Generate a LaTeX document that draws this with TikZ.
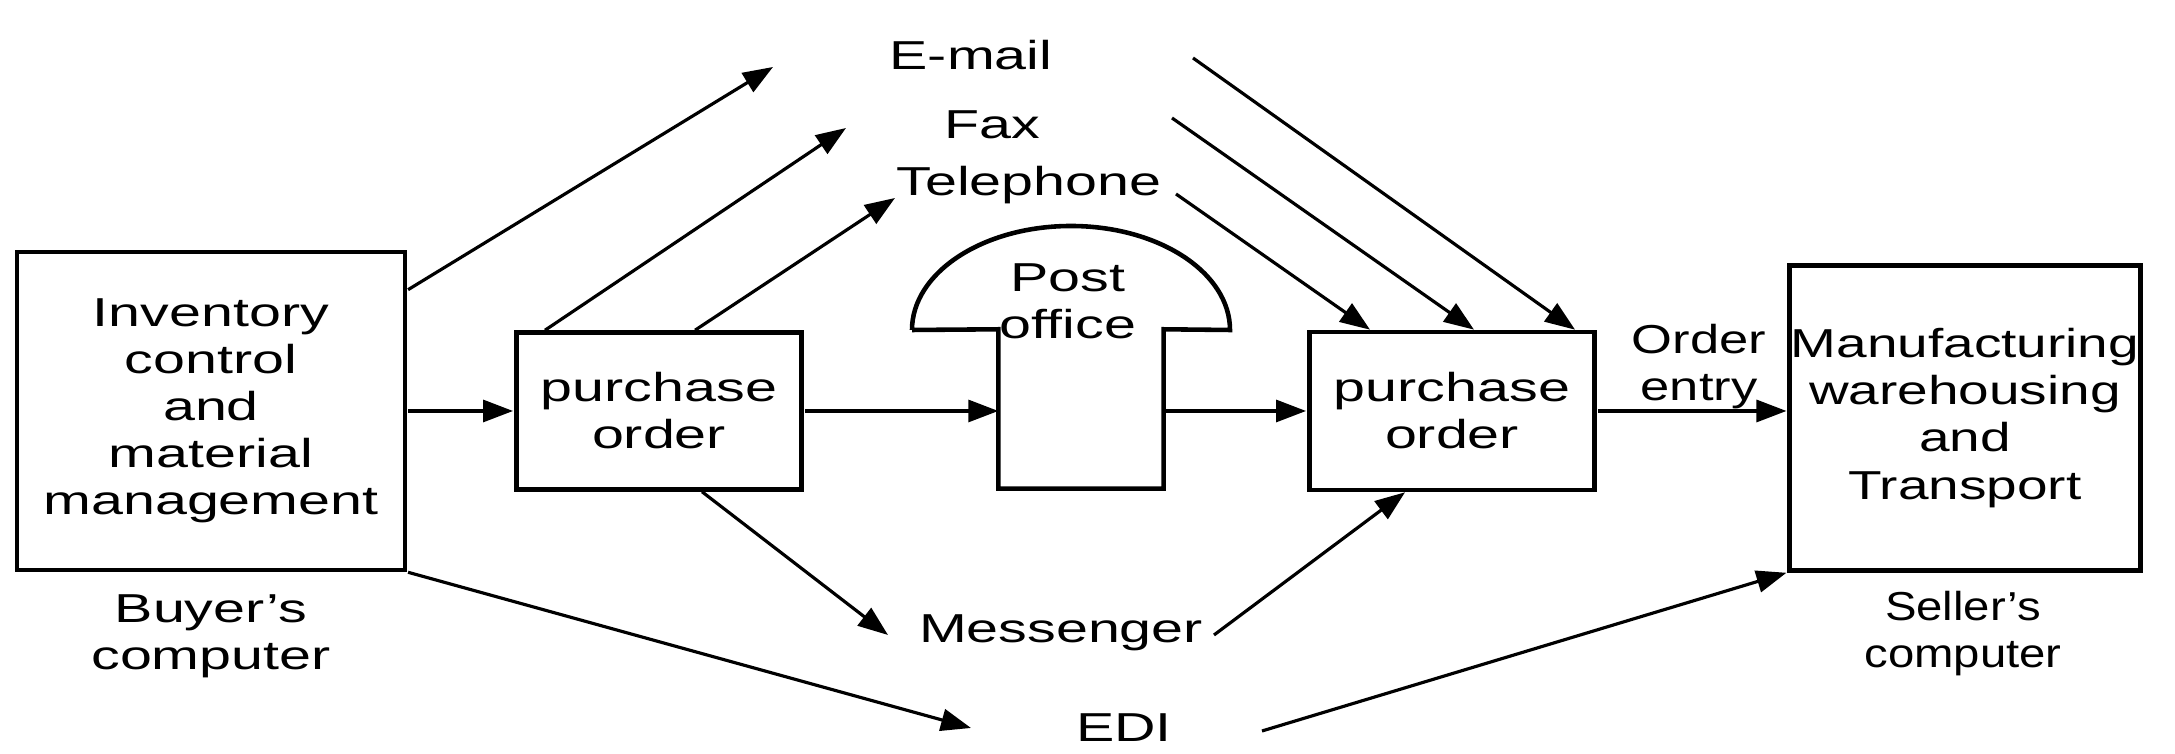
\documentclass[tikz,border=0pt]{standalone}
\usepackage{fontspec}
\setmainfont{Liberation Sans}
\usepackage{tikz}
\usetikzlibrary{arrows.meta}

\begin{document}
\begin{tikzpicture}[
    txt/.style={font=\fontsize{11.5}{13.4}\selectfont, align=center, inner sep=0pt, xscale=1.42},
    box/.style={txt, draw, line width=1.3pt, minimum height=#1},
    flow/.style={-{Triangle[length=3mm, width=2.2mm]}, line width=0.9pt}
  ]
    \useasboundingbox (0,0) rectangle (21.75,7.54);

    %% buyer's side
    \node[box=3.18cm, minimum width=2.73cm] (inv) at (2.11,3.43)
      {Inventory\\control\\and\\material\\management};
    \node[txt] (buyer) at (2.11,1.18) {Buyer's\\computer};
    \node[box=1.57cm, minimum width=2.01cm] (po1) at (6.59,3.43) {purchase\\order};

    %% post office (dome on a stem)
    \node[minimum width=1.64cm, minimum height=1.58cm, inner sep=0pt] (stem) at (10.81,3.45) {};
    \draw[line width=1.3pt] (9.12,4.24) -- (stem.north west) -- (stem.south west)
      -- (stem.south east) -- (stem.north east) -- (12.30,4.24)
      arc[start angle=0, end angle=180, x radius=1.59cm, y radius=1.04cm];
    \node[txt] (postlbl) at (10.68,4.53) {Post\\office};

    %% seller's side
    \node[box=1.58cm, minimum width=2.01cm] (po2) at (14.52,3.43) {purchase\\order};
    \node[box=3.05cm, xscale=1.36/1.42, minimum width=2.58cm] (mfg) at (19.65,3.36)
      {Manufacturing\\warehousing\\and\\Transport};
    \node[txt, xscale=1.17/1.42] (seller) at (19.63,1.2) {Seller's\\computer};
    \node[txt, xscale=1.3/1.42] (entry) at (16.99,3.87) {Order\\entry};

    %% channels
    \node[txt] (mail) at (9.71,6.99) {E-mail};
    \node[txt] (fax) at (9.92,6.29) {Fax};
    \node[txt] (tel) at (10.29,5.69) {Telephone};
    \node[txt] (msg) at (10.61,1.21) {Messenger};
    \node[txt] (edi) at (11.24,0.26) {EDI};

    \coordinate (mailL) at (7.73,6.87);
    \coordinate (mailR) at (11.93,6.96);
    \coordinate (faxL) at (8.46,6.26);
    \coordinate (faxR) at (11.72,6.36);
    \coordinate (telL) at (8.95,5.56);
    \coordinate (telR) at (11.76,5.60);
    \coordinate (msgL) at (8.88,1.19);
    \coordinate (msgR) at (12.14,1.19);
    \coordinate (ediL) at (9.71,0.26);
    \coordinate (ediR) at (12.62,0.23);

    %% main line
    \draw[flow] (inv.east) -- (inv.east -| po1.west);
    \draw[flow] (po1.east) -- (po1.east -| stem.west);
    \draw[flow] (stem.east |- po2.west) -- (po2.west);
    \draw[flow] (po2.east) -- (po2.east -| mfg.west);

    %% upper channels
    \draw[flow] ([yshift=-0.4cm]inv.north east) -- (mailL);
    \draw[flow] ([xshift=0.32cm]po1.north west) -- (faxL);
    \draw[flow] ([xshift=1.82cm]po1.north west) -- (telL);
    \draw[flow] (mailR) -- ([xshift=2.69cm]po2.north west);
    \draw[flow] (faxR) -- ([xshift=1.68cm]po2.north west);
    \draw[flow] (telR) -- ([xshift=0.64cm]po2.north west);

    %% lower channels
    \draw[flow] ([xshift=1.89cm]po1.south west) -- (msgL);
    \draw[flow] (msgR) -- ([xshift=0.99cm]po2.south west);
    \draw[flow] (inv.south east) -- (ediL);
    \draw[flow] (ediR) -- (mfg.south west);
\end{tikzpicture}
\end{document}
